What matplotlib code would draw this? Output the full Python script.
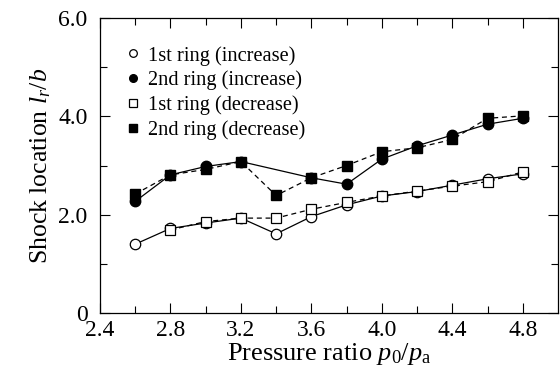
import matplotlib
matplotlib.use("Agg")
import matplotlib.pyplot as plt
import numpy as np

plt.rcParams['font.family'] = ['Liberation Serif', 'DejaVu Serif']
plt.rcParams['mathtext.fontset'] = 'custom'
plt.rcParams['mathtext.it'] = 'Liberation Serif:italic'
plt.rcParams['mathtext.rm'] = 'Liberation Serif'

x_all = [2.6, 2.8, 3.0, 3.2, 3.4, 3.6, 3.8, 4.0, 4.2, 4.4, 4.6, 4.8]
ring1_inc = [1.40, 1.72, 1.83, 1.93, 1.61, 1.96, 2.20, 2.38, 2.47, 2.60, 2.73, 2.83]

x_r1dec = [2.8, 3.0, 3.2, 3.4, 3.6, 3.8, 4.0, 4.2, 4.4, 4.6, 4.8]
ring1_dec = [1.69, 1.86, 1.93, 1.93, 2.11, 2.25, 2.38, 2.48, 2.58, 2.67, 2.87]

x_r2inc = [2.6, 2.8, 3.0, 3.2, 3.6, 3.8, 4.0, 4.2, 4.4, 4.6, 4.8]
ring2_inc = [2.27, 2.81, 2.98, 3.08, 2.75, 2.62, 3.13, 3.40, 3.62, 3.84, 3.96]

ring2_dec = [2.42, 2.81, 2.92, 3.08, 2.39, 2.75, 3.00, 3.28, 3.36, 3.53, 3.96, 4.01]

labels = ['1st ring (increase)', '2nd ring (increase)',
          '1st ring (decrease)', '2nd ring (decrease)']
xticks = [2.4, 2.8, 3.2, 3.6, 4.0, 4.4, 4.8]
yticks = [0, 2, 4, 6]
yticklabels = ['0', '2.0', '4.0', '6.0']

fig = plt.figure(figsize=(5.6, 3.76), dpi=100)
ax = fig.add_axes([100/560, 1-313/376, 458/560, 295/376])

lw = 0.9
ms = 7.5
# lines
ax.plot(x_all, ring1_inc, '-', color='black', lw=lw, zorder=2)
ax.plot(x_r1dec, ring1_dec, '--', color='black', lw=lw, dashes=(4, 3), zorder=2)
ax.plot(x_r2inc, ring2_inc, '-', color='black', lw=lw, zorder=2)
ax.plot(x_all, ring2_dec, '--', color='black', lw=lw, dashes=(4, 3), zorder=2)
# markers
h1, = ax.plot(x_all, ring1_inc, 'o', ls='none', mfc='white', mec='black', mew=0.9, ms=ms, zorder=3, label=labels[0])
h2, = ax.plot(x_r2inc, ring2_inc, 'o', ls='none', mfc='black', mec='black', ms=ms, zorder=3, label=labels[1])
h3, = ax.plot(x_r1dec, ring1_dec, 's', ls='none', mfc='white', mec='black', mew=0.9, ms=ms - 0.5, zorder=3, label=labels[2])
h4, = ax.plot(x_all, ring2_dec, 's', ls='none', mfc='black', mec='black', ms=ms - 0.5, zorder=3, label=labels[3])

ax.set_xlim(2.4, 5.0)
ax.set_ylim(0, 6)
ax.set_xticks(xticks)
ax.set_xticklabels([f'{v:.1f}' for v in xticks])
ax.set_xticks(np.arange(2.6, 5.0, 0.4), minor=True)
ax.set_yticks(yticks)
ax.set_yticklabels(yticklabels)
ax.set_yticks([1, 3, 5], minor=True)
ax.tick_params(which='both', direction='in', top=True, right=True, labelsize=17, width=0.8)
ax.tick_params(which='major', length=7)
ax.tick_params(which='minor', length=5)
ax.tick_params(axis='x', pad=5)
ax.tick_params(axis='y', pad=9)
for s in ax.spines.values():
    s.set_linewidth(0.9)

ax.set_xlabel(r'Pressure ratio $p_0/p_{\mathrm{a}}$', fontsize=19, labelpad=0)
ax.set_ylabel(r'Shock location $l_r/b$', fontsize=18.5, labelpad=4)

leg = ax.legend(handles=[h1, h2, h3, h4], loc='upper left', frameon=False,
                fontsize=14.7, handlelength=0.6, handletextpad=0.4,
                labelspacing=0.25, borderaxespad=0.6, bbox_to_anchor=(0.015, 0.975))
for h in leg.legend_handles:
    h.set_markersize(5.5)

fig.savefig('out.png', dpi=100)
